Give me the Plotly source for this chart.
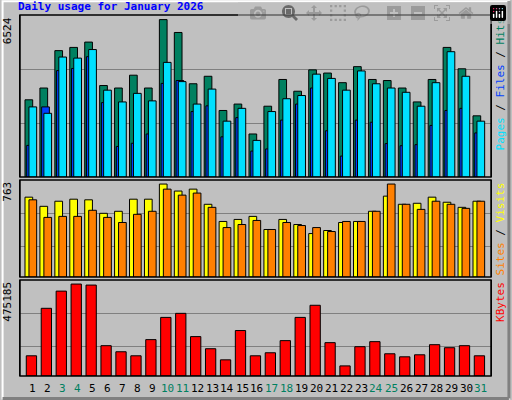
import plotly.graph_objects as go

days = list(range(1, 32))
hits = [3111,3585,5090,5219,5434,3685,3585,4101,3585,6338,5821,3757,4058,2681,2939,1735,
        2853,3929,3456,4316,4187,3800,4445,3929,3886,3585,3025,3929,5219,4359,2466]
files = [1276,2825,4287,4373,4846,2997,1233,1362,1735,3771,3886,2638,2868,1620,2394,1047,
         1133,2294,2939,3585,1864,846,2294,2208,1348,1262,1305,2079,2681,2767,1778]
pages = [2825,2567,4832,4789,5133,3499,3025,3370,3068,4617,3843,2939,3542,2251,2767,1477,
         2638,3154,3283,4144,3972,3499,4273,3757,3585,3413,2853,3800,5047,4058,2251]
visits = [628,556,596,612,607,501,517,612,612,731,676,691,572,437,453,477,
          374,453,413,342,366,429,437,517,636,572,580,628,588,548,596]
sites = [607,469,477,477,525,469,429,493,517,691,644,660,548,389,413,445,
         374,429,405,389,358,437,437,517,731,572,532,596,572,540,596]
kbytes = [100000,335000,420000,455000,450000,150000,120000,100000,180000,290000,310000,195000,
          135000,80000,225000,100000,115000,175000,290000,350000,165000,50000,145000,170000,
          110000,95000,105000,155000,140000,150000,100000]
weekend = {3,4,10,11,17,18,24,25,31}
max_hits, max_visits, max_kb = 6524, 763, 475185

fig = go.Figure()
line = dict(color="black", width=1)
W = 0.516
def bar(y, col, off, ax, w=W):
    fig.add_trace(go.Bar(x=days, y=y, width=w, offset=off, marker=dict(color=col, line=line),
                         yaxis=ax, xaxis="x", showlegend=False))
bar(hits, "#008060", -0.536, "y")
bar(files, "#0040ff", -0.42, "y")
bar(pages, "#00e0ff", -0.27, "y")
bar(visits, "#ffff00", -0.536, "y2")
bar(sites, "#ff8000", -0.27, "y2")
bar(kbytes, "#ff0000", -0.45, "y3", w=0.69)

grid = dict(showgrid=True, gridcolor="#808080", gridwidth=1, showticklabels=False,
            zeroline=False, ticks="", showline=True, linecolor="black", mirror=True)
fig.update_layout(
    width=512, height=400, barmode="overlay",
    margin=dict(l=20, r=21, t=15, b=24),
    paper_bgcolor="#c0c0c0", plot_bgcolor="#c0c0c0",
    font=dict(family="DejaVu Sans Mono", size=11, color="black"),
    xaxis=dict(range=[0.13, 31.67], showticklabels=False, showgrid=False, zeroline=False,
               showline=False, anchor="y3"),
    yaxis=dict(domain=[0.551, 1], range=[0, max_hits],
               tickvals=[max_hits/3, 2*max_hits/3], **grid),
    yaxis2=dict(domain=[0.274, 0.543], range=[0, max_visits],
                tickvals=[238, 501], **grid),
    yaxis3=dict(domain=[0, 0.266], range=[0, max_kb],
                tickvals=[max_kb*0.31, max_kb*0.655], **grid),
)
for y0, y1 in [(0.551, 1), (0.274, 0.543), (0, 0.266)]:
    fig.add_shape(type="rect", xref="paper", yref="paper", x0=0, x1=1, y0=y0, y1=y1,
                  line=dict(color="black", width=1.5))
fig.add_shape(type="rect", xref="paper", yref="paper", x0=-0.037, x1=1.038, y0=-0.062, y1=1.038,
              line=dict(color="white", width=2), layer="below")
fig.add_shape(type="line", xref="paper", yref="paper", x0=1.038, x1=1.038, y0=-0.062, y1=1.038,
              line=dict(color="#808080", width=3))
fig.add_shape(type="line", xref="paper", yref="paper", x0=-0.037, x1=1.038, y0=-0.062, y1=-0.062,
              line=dict(color="#808080", width=3))

fig.add_annotation(text="<b>Daily usage for January 2026</b>", xref="paper", yref="paper",
                   x=-0.008, y=1.0, xanchor="left", yanchor="bottom", showarrow=False,
                   font=dict(color="#0000ff", size=11))
for lbl, yy in [("6524", 1.0), ("763", 0.543), ("475185", 0.266)]:
    fig.add_annotation(text=lbl, xref="paper", yref="paper", x=-0.008, y=yy, xanchor="right",
                       yanchor="top", textangle=-90, showarrow=False, font=dict(size=11))
right = [
    ("<span style='color:#00e0ff'>Pages</span> / <span style='color:#0040ff'>Files</span> / "
     "<span style='color:#008060'>Hits</span>", 1.0),
    ("<span style='color:#ff8000'>Sites</span> / <span style='color:#ffff00'>Visits</span>", 0.543),
    ("<span style='color:#ff0000'>KBytes</span>", 0.266),
]
for t, yy in right:
    fig.add_annotation(text=t, xref="paper", yref="paper", x=1.003, y=yy, xanchor="left",
                       yanchor="top", textangle=-90, showarrow=False, font=dict(size=11))
for d in days:
    fig.add_annotation(text=str(d), x=d, xref="x", yref="paper", y=-0.012, yanchor="top",
                       showarrow=False,
                       font=dict(size=11, color="#008060" if d in weekend else "black"))
fig.write_html("out.html", post_script="document.body.style.margin='0';")
